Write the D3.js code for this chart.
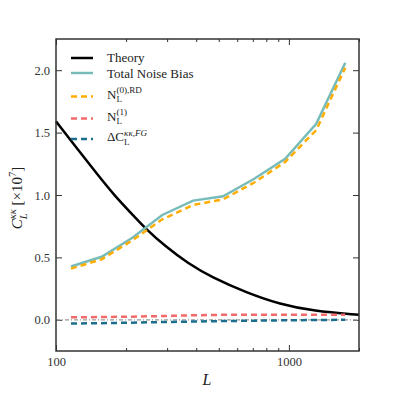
<!DOCTYPE html>
<html>
<head>
<meta charset="utf-8">
<script src="https://cdn.jsdelivr.net/npm/d3@7"></script>
<style>
  body { margin: 0; background: #fff; }
  svg { display: block; }
  text { font-family: 'Liberation Serif', 'Times New Roman', serif; }
  .tick text { font-family: 'Liberation Serif', serif; font-size: 12.5px; fill: #333; }
  .tick line { stroke: #333; stroke-width: 1; }
  .domain { display: none; }
</style>
</head>
<body>
<div id="chart"></div>
<script>
// binned multipoles
const binL = [116, 157, 212, 286, 388, 522, 710, 964, 1310, 1746];
const totalNoise = [0.427, 0.505, 0.655, 0.84, 0.955, 0.99, 1.13, 1.29, 1.57, 2.06];
const n0RD = [0.41, 0.485, 0.635, 0.805, 0.92, 0.965, 1.10, 1.265, 1.52, 2.02];
const n1 = [0.02, 0.022, 0.025, 0.03, 0.036, 0.04, 0.04, 0.04, 0.04, 0.04];
const deltaFG = [-0.03, -0.027, -0.023, -0.018, -0.014, -0.01, -0.007, -0.004, -0.002, 0.0];

// theory curve
const theoryL = [100, 121, 147, 179, 219, 241, 294, 370, 467, 659, 916, 1274, 2000];
const theory = [1.59, 1.39, 1.19, 0.99, 0.82, 0.735, 0.59, 0.45, 0.34, 0.217, 0.124, 0.07, 0.04];

const xMajor = [100, 1000];
const xMinor = [200, 300, 400, 500, 600, 700, 800, 900, 2000];
const yTicks = [0.0, 0.5, 1.0, 1.5, 2.0];

const margin = { top: 39, right: 40, bottom: 48, left: 56 };
const width = 399 - margin.left - margin.right;
const height = 399 - margin.top - margin.bottom;

const svg = d3.select('#chart').append('svg')
    .attr('width', 399)
    .attr('height', 399);

const g = svg.append('g')
    .attr('transform', `translate(${margin.left},${margin.top})`);

const x = d3.scaleLog().domain([100, 2000]).range([0, width]);
const y = d3.scaleLinear().domain([-0.25, 2.25]).range([height, 0]);

// axes, ticks pointing inward on all four sides
g.append('g')
    .attr('transform', `translate(0,${height})`)
    .call(d3.axisBottom(x).tickValues(xMajor).tickSize(-6).tickPadding(6).tickFormat(d3.format('d')));
g.append('g')
    .attr('transform', `translate(0,${height})`)
    .call(d3.axisBottom(x).tickValues(xMinor).tickSize(-3).tickFormat(''));
g.append('g')
    .call(d3.axisTop(x).tickValues(xMajor).tickSize(-6).tickFormat(''));
g.append('g')
    .call(d3.axisTop(x).tickValues(xMinor).tickSize(-3).tickFormat(''));
g.append('g')
    .call(d3.axisLeft(y).tickValues(yTicks).tickSize(-6).tickPadding(6).tickFormat(d3.format('.1f')));
g.append('g')
    .attr('transform', `translate(${width},0)`)
    .call(d3.axisRight(y).tickValues(yTicks).tickSize(-6).tickFormat(''));

// zero reference line
g.append('line')
    .attr('x1', 0).attr('x2', width)
    .attr('y1', y(0)).attr('y2', y(0))
    .style('stroke', '#999')
    .style('stroke-width', 1.2)
    .style('stroke-dasharray', '4,2,1,2');

const series = [
    { name: 'Theory', L: theoryL, v: theory, color: '#000', dash: null, curve: d3.curveBasis },
    { name: 'Total Noise Bias', L: binL, v: totalNoise, color: '#77bcb9', dash: null, curve: d3.curveLinear },
    { name: 'N0', L: binL, v: n0RD, color: '#ffad00', dash: '6,4', curve: d3.curveLinear },
    { name: 'N1', L: binL, v: n1, color: '#f26b6b', dash: '6,4', curve: d3.curveLinear },
    { name: 'FG', L: binL, v: deltaFG, color: '#1c6e8f', dash: '6,4', curve: d3.curveLinear }
];

const plot = g.append('g');
series.forEach(s => {
    const pts = s.L.map((l, i) => [l, s.v[i]]);
    const line = d3.line().x(d => x(d[0])).y(d => y(d[1])).curve(s.curve);
    plot.append('path')
        .datum(pts)
        .attr('d', line)
        .style('fill', 'none')
        .style('stroke', s.color)
        .style('stroke-width', 2.5)
        .style('stroke-dasharray', s.dash);
});

// frame
g.append('rect')
    .attr('width', width).attr('height', height)
    .style('fill', 'none')
    .style('stroke', '#333')
    .style('stroke-width', 1.5);

// base + stacked sub/superscript
function mathText(sel, base, sub, sup, fs, opts) {
    opts = opts || {};
    sel.append('tspan').text(base).style('font-style', opts.baseItalic ? 'italic' : 'normal');
    const sb = sel.append('tspan').attr('dy', fs * 0.3).attr('font-size', fs * 0.7)
        .style('font-style', opts.subItalic ? 'italic' : 'normal').text(sub);
    const wSub = sb.node().getComputedTextLength();
    const sp = sel.append('tspan').attr('dx', -wSub).attr('dy', -fs * 0.72).attr('font-size', fs * 0.7)
        .style('font-style', opts.supItalic ? 'italic' : 'normal').text(sup);
    const wSup = sp.node().getComputedTextLength();
    return { back: fs * 0.42, extra: Math.max(0, wSub - wSup) };
}

// legend
const legend = g.append('g');
const legRows = [
    { y: 58, color: '#000', dash: null },
    { y: 73, color: '#77bcb9', dash: null },
    { y: 96.5, color: '#ffad00', dash: '6,4' },
    { y: 118.5, color: '#f26b6b', dash: '6,4' },
    { y: 139, color: '#1c6e8f', dash: '6,4' }
];
legRows.forEach(r => {
    legend.append('line')
        .attr('x1', 71 - margin.left).attr('x2', 93 - margin.left)
        .attr('y1', r.y - margin.top).attr('y2', r.y - margin.top)
        .style('stroke', r.color)
        .style('stroke-width', 2.5)
        .style('stroke-dasharray', r.dash);
});
const lx = 107 - margin.left;
function legText(yb) {
    return legend.append('text')
        .attr('x', lx).attr('y', yb - margin.top)
        .style('font-size', '13px')
        .style('fill', '#222');
}
legText(62).text('Theory');
legText(77.5).text('Total Noise Bias');
mathText(legText(98.5), 'N', 'L', '(0),RD', 13, {});
mathText(legText(120.5), 'N', 'L', '(1)', 13, {});
mathText(legText(141), '\u0394C', 'L', '\u03ba\u03ba,FG', 13, { supItalic: true });

// axis labels
svg.append('text')
    .attr('x', 207).attr('y', 385)
    .attr('text-anchor', 'middle')
    .style('font-size', '16px')
    .style('font-style', 'italic')
    .style('fill', '#222')
    .text('L');

const yl = svg.append('text')
    .attr('transform', 'translate(22,198) rotate(-90)')
    .attr('text-anchor', 'middle')
    .style('font-size', '15px')
    .style('fill', '#222');
const m = mathText(yl, 'C', 'L', '\u03ba\u03ba', 15, { baseItalic: true, subItalic: true, supItalic: true });
yl.append('tspan').attr('dy', m.back).attr('dx', m.extra).text(' [\u00d710');
yl.append('tspan').attr('dy', -15 * 0.4).attr('font-size', 10.5).text('7');
yl.append('tspan').attr('dy', 15 * 0.4).text(']');
</script>
</body>
</html>
